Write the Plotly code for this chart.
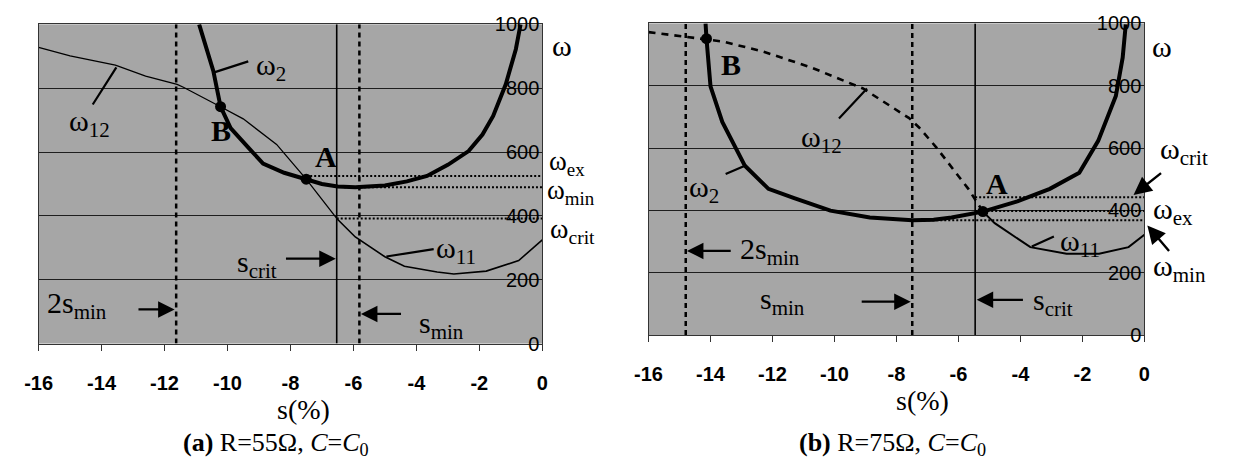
import plotly.graph_objects as go

W, H = 1233, 468
SERIF = "Liberation Serif"
SANS = "Liberation Sans"

# ---------------- data : panel (a) R=55 ohm ----------------
a_w2_s = [-10.9, -10.45, -10.22, -9.9, -9.3, -8.87, -8.2, -7.5, -7.0, -6.5, -5.94, -5.0, -4.3, -3.66, -3.0, -2.34, -1.9, -1.56, -1.16, -0.84, -0.69]
a_w2 = [1000, 854, 742, 675, 610, 564, 535, 515, 500, 492, 490, 495, 508, 525, 560, 603, 655, 713, 812, 922, 1000]
a_w12_s = [-16, -15, -13.56, -12.6, -11.6, -11.4, -10.22, -9.5, -8.44, -7.5, -7.0, -6.53]
a_w12 = [928, 901, 872, 838, 812, 803, 742, 704, 624, 515, 452, 392]
a_w11_s = [-6.53, -5.94, -5.0, -4.38, -3.34, -2.81, -1.78, -0.75, 0]
a_w11 = [392, 334, 272, 242, 224, 218, 227, 260, 325]
a_pts_s = [-7.5, -10.22]          # A, B
a_pts_w = [515, 742]
a_s_2min, a_s_min, a_s_crit = -11.63, -5.81, -6.53
a_w_ex, a_w_min, a_w_crit = 525, 490, 392
a_w_ex_from, a_w_min_from, a_w_crit_from = -7.5, -6.3, -6.53

# ---------------- data : panel (b) R=75 ohm ----------------
b_w2_s = [-14.16, -14.13, -14.0, -13.62, -12.89, -12.13, -11.3, -10.13, -8.86, -7.49, -6.8, -6.22, -5.21, -4.1, -3.05, -2.1, -1.49, -0.92, -0.7, -0.6]
b_w2 = [1000, 951, 798, 684, 543, 469, 439, 399, 377, 368, 370, 377, 396, 429, 469, 521, 623, 767, 890, 997]
b_w12_s = [-16, -14.8, -13.62, -12.35, -10.76, -9.08, -7.59, -7.27, -6.73, -5.68, -5.21]
b_w12 = [972, 957, 942, 911, 859, 791, 696, 666, 604, 469, 396]
b_w11_s = [-5.21, -4.83, -3.68, -2.51, -1.46, -0.51, 0]
b_w11 = [396, 359, 282, 261, 261, 282, 322]
b_pts_s = [-5.21, -14.13]         # A, B
b_pts_w = [396, 951]
b_s_2min, b_s_min, b_s_crit = -14.8, -7.49, -5.46
b_w_crit, b_w_ex, b_w_min = 442, 398, 368
b_w_crit_from, b_w_ex_from, b_w_min_from = -5.46, -5.46, -7.49

# ---------------- ticks ----------------
x_tick_vals = [-16, -14, -12, -10, -8, -6, -4, -2, 0]
x_tick_text = ["-16", "-14", "-12", "-10", "-8", "-6", "-4", "-2", "0"]
y_tick_vals = [0, 200, 400, 600, 800, 1000]
y_tick_text = ["0", "200", "400", "600", "800", "1000"]
Y_TOP = 1000

fig = go.Figure()


def line(xs, ys, xa, ya, width, dash=None, color="black"):
    fig.add_trace(go.Scatter(x=xs, y=ys, xaxis=xa, yaxis=ya, mode="lines",
                             line=dict(color=color, width=width, dash=dash),
                             hoverinfo="skip", showlegend=False))


def vline(v, xa, ya, dash):
    line([v, v], [0, Y_TOP], xa, ya, 2.5 if dash else 1.6, dash)


def hline(w, start, xa, ya):
    line([start, 0], [w, w], xa, ya, 2, "2px,2px")


# panel (a)
vline(a_s_2min, "x", "y", "5px,4px")
vline(a_s_min, "x", "y", "5px,4px")
vline(a_s_crit, "x", "y", None)
hline(a_w_ex, a_w_ex_from, "x", "y")
hline(a_w_min, a_w_min_from, "x", "y")
hline(a_w_crit, a_w_crit_from, "x", "y")
line(a_w12_s, a_w12, "x", "y", 1.3)
line(a_w11_s, a_w11, "x", "y", 1.6)
line(a_w2_s, a_w2, "x", "y", 4)
fig.add_trace(go.Scatter(x=a_pts_s, y=a_pts_w, xaxis="x", yaxis="y", mode="markers",
                         marker=dict(color="black", size=11), showlegend=False, hoverinfo="skip"))

# panel (b)
vline(b_s_2min, "x2", "y2", "5px,4px")
vline(b_s_min, "x2", "y2", "5px,4px")
vline(b_s_crit, "x2", "y2", None)
hline(b_w_crit, b_w_crit_from, "x2", "y2")
hline(b_w_ex, b_w_ex_from, "x2", "y2")
hline(b_w_min, b_w_min_from, "x2", "y2")
line(b_w12_s, b_w12, "x2", "y2", 2.6, "7px,6px")
line(b_w11_s, b_w11, "x2", "y2", 2)
line(b_w2_s, b_w2, "x2", "y2", 4)
fig.add_trace(go.Scatter(x=b_pts_s, y=b_pts_w, xaxis="x2", yaxis="y2", mode="markers",
                         marker=dict(color="black", size=11), showlegend=False, hoverinfo="skip"))

# ---------------- annotations ----------------
ann = []
LBL = 30


def txt(s, xp, yp, size=LBL, xanchor="left", family=SERIF):
    ann.append(dict(text=s, x=xp / W, y=1 - yp / H, xref="paper", yref="paper",
                    xanchor=xanchor, yanchor="middle", showarrow=False,
                    font=dict(family=family, size=size, color="black")))


def leader(x0, y0, x1, y1, xr, yr):
    ann.append(dict(text="", x=x1, y=y1, ax=x0, ay=y0, xref=xr, yref=yr, axref=xr, ayref=yr,
                    showarrow=True, arrowhead=0, arrowwidth=2.2, arrowcolor="black"))


def arrow(x0, y0, x1, y1, xr, yr):
    ann.append(dict(text="", x=x1, y=y1, ax=x0, ay=y0, xref=xr, yref=yr, axref=xr, ayref=yr,
                    showarrow=True, arrowhead=2, arrowsize=1.5, arrowwidth=2.2, arrowcolor="black"))


def parrow(hx, hy, dx, dy):
    ann.append(dict(text="", x=hx / W, y=1 - hy / H, xref="paper", yref="paper", ax=dx, ay=dy,
                    showarrow=True, arrowhead=2, arrowsize=1.5, arrowwidth=2.4, arrowcolor="black"))


# panel (a) labels
txt("ω<sub>2</sub>", 244, 59)
leader(-10.47, 848, -9.34, 884, "x", "y")
txt("ω<sub>12</sub>", 54, 118)
leader(-13.5, 870, -14.28, 749, "x", "y")
txt("<b>B</b>", 210, 125, xanchor="center")
txt("<b>A</b>", 317, 153, xanchor="center")
txt("ω<sub>11</sub>", 427, 251)
leader(-5.0, 272, -3.45, 296, "x", "y")
txt("s<sub>crit</sub>", 269, 265, xanchor="right")
arrow(-8.19, 266, -6.56, 266, "x", "y")
txt("2s<sub>min</sub>", 32, 308)
arrow(-12.875, 107, -11.68, 107, "x", "y")
txt("s<sub>min</sub>", 410, 329)
arrow(-4.44, 93, -5.76, 93, "x", "y")
txt("ω", 545, 36)
txt("ω<sub>ex</sub>", 542, 159, size=27)
txt("ω<sub>min</sub>", 540, 190, size=27)
txt("ω<sub>crit</sub>", 543, 230, size=28)
txt("s(%)", 294, 418, size=28, xanchor="center")
txt("<b>(a)</b> R=55Ω, <i>C</i>=<i>C</i><sub>0</sub>", 266, 454, size=26, xanchor="center")

# panel (b) labels
txt("<b>B</b>", 729, 56, xanchor="center")
txt("ω<sub>12</sub>", 798, 134)
leader(-9.90, 690, -8.95, 791, "x2", "y2")
txt("ω<sub>2</sub>", 684, 187)
leader(-13.56, 515, -12.89, 543, "x2", "y2")
txt("2s<sub>min</sub>", 736, 252)
arrow(-13.3, 270, -14.76, 270, "x2", "y2")
txt("s<sub>min</sub>", 756, 304)
arrow(-9.17, 107, -7.54, 107, "x2", "y2")
txt("<b>A</b>", 999, 181, xanchor="center")
txt("ω<sub>11</sub>", 1061, 243)
leader(-3.68, 282, -2.92, 316, "x2", "y2")
txt("s<sub>crit</sub>", 1034, 305)
arrow(-3.87, 113, -5.41, 113, "x2", "y2")
txt("ω", 1155, 37)
txt("ω<sub>crit</sub>", 1163, 147)
parrow(1138, 193, 29, -23)
txt("ω<sub>ex</sub>", 1156, 210)
txt("ω<sub>min</sub>", 1156, 270)
parrow(1152, 225, 23, 27)
txt("s(%)", 923, 409, size=28, xanchor="center")
txt("<b>(b)</b> R=75Ω, <i>C</i>=<i>C</i><sub>0</sub>", 893, 454, size=26, xanchor="center")

# ---------------- axes ----------------
xcommon = dict(range=[-16, 0], tickvals=x_tick_vals, ticktext=x_tick_text, showgrid=False,
               zeroline=False, showline=True, linecolor="#333", linewidth=1, mirror=True,
               ticks="outside", ticklen=6, tickcolor="#333", tickwidth=1,
               ticklabelstandoff=15,
               tickfont=dict(family=SANS, size=20, color="black", weight="bold"))
ycommon = dict(range=[0, Y_TOP], tickvals=y_tick_vals, ticktext=y_tick_text, side="right",
               ticklabelposition="inside", ticklabeloverflow="allow", ticks="",
               ticklabelstandoff=4, showgrid=True, gridcolor="#1e1e1e", gridwidth=1,
               zeroline=False, showline=True, linecolor="#333", linewidth=1, mirror=True,
               tickfont=dict(family=SANS, size=20, color="black"))

fig.update_layout(
    width=W, height=H, margin=dict(l=0, r=0, t=0, b=0),
    paper_bgcolor="white", plot_bgcolor="#a6a6a6", showlegend=False,
    xaxis=dict(domain=[25 / W, 537 / W], anchor="y", **xcommon),
    yaxis=dict(domain=[1 - 349 / H, 1 - 14 / H], anchor="x", **ycommon),
    xaxis2=dict(domain=[645 / W, 1149 / W], anchor="y2", **xcommon),
    yaxis2=dict(domain=[1 - 340 / H, 1 - 13 / H], anchor="x2", **ycommon),
    annotations=ann,
)

fig.write_html("out.html")
